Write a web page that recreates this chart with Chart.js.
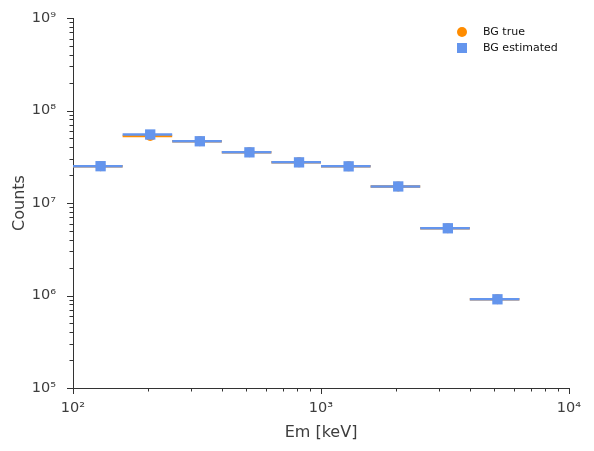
<!DOCTYPE html>
<html>
<head>
<meta charset="utf-8">
<script src="https://cdn.jsdelivr.net/npm/chart.js@4.4.0/dist/chart.umd.min.js"></script>
<style>
html,body{margin:0;padding:0;background:#fff;}
#wrap{width:594px;height:451px;}
</style>
</head>
<body>
<div id="wrap"><canvas id="c" width="594" height="451"></canvas></div>
<script>
// ---- data ----
const binLo = [100, 158.5, 251.2, 398.1, 631.0, 1000, 1584.9, 2511.9, 3981.1];
const binHi = [158.5, 251.2, 398.1, 631.0, 1000, 1584.9, 2511.9, 3981.1, 6309.6];
const binCenter = [129.2, 204.8, 324.6, 514.5, 815.5, 1292.4, 2048.4, 3246.5, 5145.3];
const bgTrue = [2.5e7, 5.3e7, 4.65e7, 3.53e7, 2.75e7, 2.49e7, 1.51e7, 5.33e6, 9.1e5];
const bgEst = [2.5e7, 5.5e7, 4.65e7, 3.53e7, 2.75e7, 2.49e7, 1.51e7, 5.33e6, 9.1e5];
const seriesNames = ['BG true', 'BG estimated'];
const xTicks = [100, 1000, 10000];
const yTicks = [1e5, 1e6, 1e7, 1e8, 1e9];
const xTitle = 'Em [keV]';
const yTitle = 'Counts';

const ORANGE = '#FF8C00';
const BLUE = '#6495ED';
const AXIS = '#333333';
const TEXT = '#3d3d3d';
const SUP = {'0':'⁰','1':'¹','2':'²','3':'³','4':'⁴','5':'⁵','6':'⁶','7':'⁷','8':'⁸','9':'⁹','-':'⁻'};
function pow10Label(v){
  const e = Math.round(Math.log10(v));
  return '10' + String(e).split('').map(c=>SUP[c]).join('');
}
function segs(vals){
  const out = [];
  for(let i=0;i<vals.length;i++){
    out.push({x:binLo[i], y:vals[i]});
    out.push({x:binHi[i], y:vals[i]});
    out.push({x:binHi[i], y:null});
  }
  return out;
}
function pts(vals){ return vals.map((v,i)=>({x:binCenter[i], y:v})); }

const tickPlugin = {
  id:'ticksAndLegend',
  afterDraw(chart){
    const ctx = chart.ctx, xs = chart.scales.x, ys = chart.scales.y, ca = chart.chartArea;
    ctx.save();
    ctx.strokeStyle = AXIS; ctx.lineWidth = 1;
    ctx.beginPath();
    for(let e=2;e<4;e++){
      for(let m=1;m<10;m++){
        const v = m*Math.pow(10,e);
        const px = Math.round(xs.getPixelForValue(v))+0.5;
        const len = m===1?6:3.5;
        ctx.moveTo(px, ca.bottom); ctx.lineTo(px, ca.bottom+len);
      }
    }
    const pe = Math.round(xs.getPixelForValue(1e4))+0.5;
    ctx.moveTo(pe, ca.bottom); ctx.lineTo(pe, ca.bottom+6);
    for(let e=5;e<9;e++){
      for(let m=1;m<10;m++){
        const v = m*Math.pow(10,e);
        const py = Math.round(ys.getPixelForValue(v))+0.5;
        const len = m===1?6:3.5;
        ctx.moveTo(ca.left, py); ctx.lineTo(ca.left-len, py);
      }
    }
    const pt = Math.round(ys.getPixelForValue(1e9))+0.5;
    ctx.moveTo(ca.left, pt); ctx.lineTo(ca.left-6, pt);
    ctx.stroke();

    const lx = 462, ly = [32, 48];
    ctx.fillStyle = ORANGE;
    ctx.beginPath(); ctx.arc(lx, ly[0], 5, 0, Math.PI*2); ctx.fill();
    ctx.fillStyle = BLUE;
    ctx.fillRect(lx-5, ly[1]-5, 10, 10);
    ctx.fillStyle = '#111';
    ctx.font = '11px "DejaVu Sans"';
    ctx.textBaseline = 'middle';
    ctx.textAlign = 'left';
    ctx.fillText(seriesNames[0], 483, ly[0]);
    ctx.fillText(seriesNames[1], 483, ly[1]);
    ctx.restore();
  }
};

new Chart(document.getElementById('c'), {
  type:'scatter',
  data:{
    datasets:[
      {type:'line', order:4, data:segs(bgTrue), borderColor:ORANGE, borderWidth:2.5, pointRadius:0, spanGaps:false, fill:false},
      {type:'scatter', order:3, label:seriesNames[0], data:pts(bgTrue), backgroundColor:ORANGE, borderColor:ORANGE, pointStyle:'circle', pointRadius:5, borderWidth:0},
      {type:'line', order:2, data:segs(bgEst), borderColor:BLUE, borderWidth:2.5, pointRadius:0, spanGaps:false, fill:false},
      {type:'scatter', order:1, label:seriesNames[1], data:pts(bgEst), backgroundColor:BLUE, borderColor:BLUE, pointStyle:'rect', pointRadius:7.3, borderWidth:0}
    ]
  },
  options:{
    responsive:false,
    animation:false,
    events:[],
    layout:{padding:{left:0, right:25, top:18, bottom:0}},
    plugins:{legend:{display:false}, tooltip:{enabled:false}},
    scales:{
      x:{
        type:'logarithmic', min:100, max:10000,
        afterBuildTicks(s){ s.ticks = xTicks.map(v=>({value:v})); },
        afterFit(s){ s.height = 63; },
        ticks:{callback:(v)=>pow10Label(v), color:TEXT, font:{family:'DejaVu Sans', size:14.5}, padding:4, maxRotation:0, autoSkip:false},
        grid:{display:false},
        border:{display:true, color:AXIS, width:1},
        title:{display:true, text:xTitle, color:TEXT, font:{family:'DejaVu Sans', size:16}, padding:{top:0, bottom:9}}
      },
      y:{
        type:'logarithmic', min:1e5, max:1e9,
        afterBuildTicks(s){ s.ticks = yTicks.map(v=>({value:v})); },
        afterFit(s){ s.width = 73; },
        ticks:{callback:(v)=>pow10Label(v), color:TEXT, font:{family:'DejaVu Sans', size:14.5}, padding:9, autoSkip:false},
        grid:{display:false},
        border:{display:true, color:AXIS, width:1},
        title:{display:true, text:yTitle, color:TEXT, font:{family:'DejaVu Sans', size:16}, padding:{top:10, bottom:4}}
      }
    }
  },
  plugins:[tickPlugin]
});
</script>
</body>
</html>
